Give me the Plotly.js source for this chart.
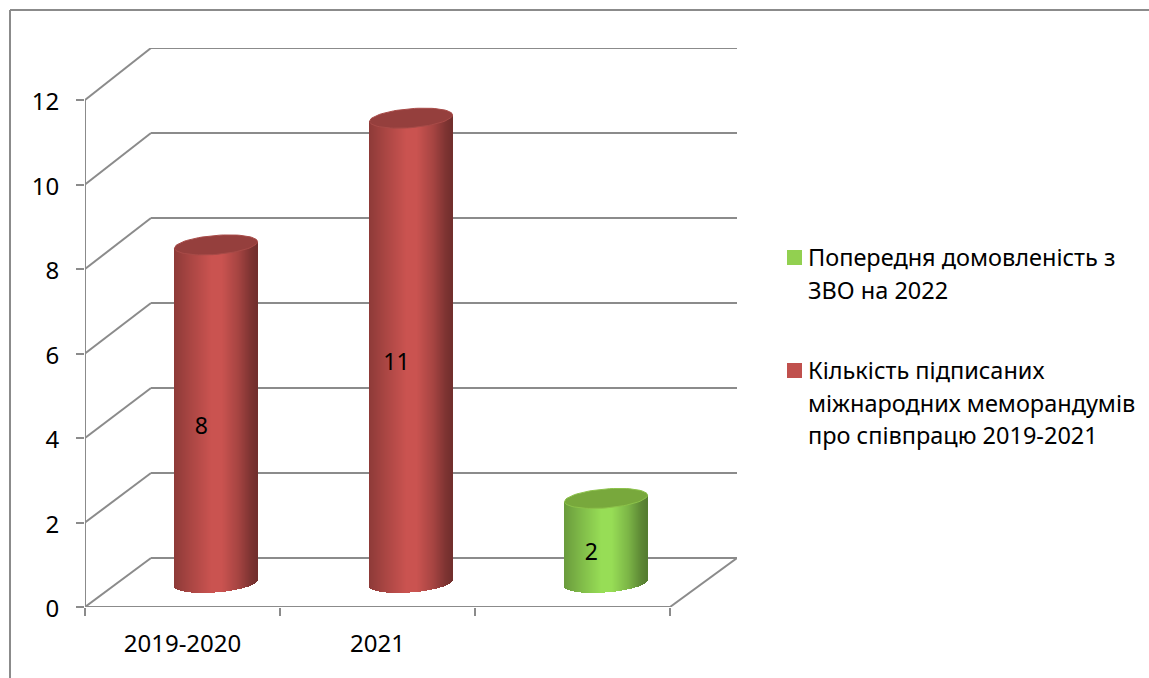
<!DOCTYPE html>
<html><head><meta charset="utf-8">
<script src="https://cdn.plot.ly/plotly-3.0.1.min.js"></script>
<style>html,body{margin:0;padding:0;background:#fff}#c{width:1149px;height:678px}</style>
</head><body><div id="c"></div>
<script>
// ---- data ----
const categories = ["2019-2020", "2021", ""];
const memorandaValues = [8, 11, null];
const agreementValues = [null, null, 2];
const memorandaName = ["Кількість підписаних", "міжнародних меморандумів", "про співпрацю 2019-2021"];
const agreementName = ["Попередня домовленість з", "ЗВО на 2022"];
const yTicks = [0, 2, 4, 6, 8, 10, 12];

// ---- styling and geometry ----
const W = 1149, H = 678, L = 85, R = 737, T = 48, B = 607;
const unitX = 195, unitY = 42.25;
const depthX = 66 / unitX, depthY = 49 / unitY, backScale = 42.5 / 42.25;
const xMax = (R - L) / unitX, yMax = (B - T) / unitY;
const grey = "#8b8b8b", FONT = "Noto Sans, sans-serif", FS = 23.5;
const radius = 41.5 / unitX, sPx = 3.2, bPx = 9.5, floorY = 0.57, catOffset = 0.172;
const red = [202, 83, 80], green = [151, 221, 86];
const stops = [[-1, .70], [-.6, .84], [-.1, 1.0], [.15, 1.0], [.55, .82], [.85, .62], [1, .56]];

function shade(c, u) {
  let k = 1;
  for (let i = 0; i < stops.length - 1; i++) {
    if (u >= stops[i][0] && u <= stops[i + 1][0]) {
      const f = (u - stops[i][0]) / (stops[i + 1][0] - stops[i][0]);
      k = stops[i][1] + f * (stops[i + 1][1] - stops[i][1]);
    }
  }
  return `rgb(${c.map(v => Math.round(v * k)).join(",")})`;
}
const N = 83;
function cylinder(values, name, col, topCol, rimCol) {
  const xs = [], bases = [], hs = [], cols = [], widths = [], out = [];
  const lx = [], ly = [], lt = [];
  values.forEach((v, i) => {
    if (v === null) return;
    const cx = i + 0.5 + catOffset;
    for (let j = 0; j < N; j++) {
      const u = -1 + (2 * j + 1) / N;
      const tilt = sPx * u / unitY, arc = bPx * Math.sqrt(1 - u * u) / unitY;
      const base = floorY + tilt - arc, top = floorY + v + tilt;
      xs.push(cx + u * radius); widths.push(2 * radius / N * 1.3);
      bases.push(base); hs.push(top - base); cols.push(shade(col, u));
    }
    const ex = [], ey = [];
    for (let a = 0; a <= 72; a++) {
      const t = a / 72 * 2 * Math.PI;
      ex.push(cx + radius * Math.cos(t));
      ey.push(floorY + v + (sPx * Math.cos(t) + bPx * Math.sin(t)) / unitY);
    }
    out.push({type: "scatter", mode: "lines", x: ex, y: ey, fill: "toself", fillcolor: topCol,
      line: {color: rimCol, width: 1}, hoverinfo: "skip", showlegend: false});
    lx.push(cx - 0.075); ly.push(v / 2 + 0.24); lt.push(String(v));
  });
  out.unshift({type: "bar", name: name.join(" "), x: xs, y: hs, base: bases, width: widths,
    marker: {color: cols, line: {width: 0}}, hoverinfo: "skip", showlegend: false});
  out.push({type: "scatter", mode: "text", x: lx, y: ly, text: lt, textposition: "middle center",
    textfont: {family: FONT, size: 23, color: "#000"}, hoverinfo: "skip", showlegend: false});
  return out;
}
const traces = [
  ...cylinder(memorandaValues, memorandaName, red, "#953f3d", "#a84b48"),
  ...cylinder(agreementValues, agreementName, green, "#78a83c", "#8cc24a")
];

const px = x => (x - L) / (R - L), py = y => (B - y) / (B - T);
const gl = {color: grey, width: 2};
const shapes = [];
yTicks.forEach(v => {
  const yb = v * backScale + depthY;
  shapes.push({type: "line", layer: "below", xref: "x", yref: "y", x0: 0, y0: v, x1: depthX, y1: yb, line: gl});
  shapes.push({type: "line", layer: "below", xref: "x", yref: "y", x0: depthX, y0: yb, x1: xMax, y1: yb, line: gl});
});
shapes.push({type: "line", layer: "below", xref: "x", yref: "y", x0: 0, y0: 0, x1: 0, y1: 12, line: gl});
shapes.push({type: "line", layer: "below", xref: "x", yref: "y", x0: 0, y0: 0, x1: categories.length, y1: 0, line: gl});
shapes.push({type: "line", layer: "below", xref: "x", yref: "y", x0: categories.length, y0: 0, x1: xMax, y1: depthY, line: gl});
// chart frame
shapes.push({type: "line", xref: "paper", yref: "paper", x0: px(10), y0: py(10), x1: px(W), y1: py(10), line: gl});
shapes.push({type: "line", xref: "paper", yref: "paper", x0: px(10), y0: py(10), x1: px(10), y1: py(H), line: gl});
// legend swatches
const sq = (y, c) => ({type: "rect", xref: "paper", yref: "paper", x0: px(787), x1: px(802), y0: py(y), y1: py(y + 15), fillcolor: c, line: {width: 0}});
shapes.push(sq(250, "#92d050"), sq(363, "#c0504d"));

const legendLine = (t, y) => ({xref: "paper", yref: "paper", x: px(809), y: py(y), text: t, showarrow: false,
  xanchor: "left", yanchor: "middle", xshift: -3, font: {family: FONT, size: FS, color: "#000"}});
const annotations = [
  ...agreementName.map((t, i) => legendLine(t, 257 + i * 33)),
  ...memorandaName.map((t, i) => legendLine(t, 370 + i * 32.5))
];

Plotly.newPlot("c", traces, {
  width: W, height: H, margin: {l: L, r: W - R, t: T, b: H - B, pad: 0},
  paper_bgcolor: "#fff", plot_bgcolor: "rgba(0,0,0,0)", showlegend: false, barmode: "overlay",
  bargap: 0, bargroupgap: 0,
  font: {family: FONT, color: "#000"},
  xaxis: {range: [0, xMax], tickmode: "array", tickvals: categories.map((c, i) => i + 0.5), ticktext: categories,
    ticks: "", showgrid: false, zeroline: false, showline: false, ticklabelstandoff: 20,
    tickfont: {family: FONT, size: 24, color: "#000"},
    minor: {tickmode: "array", tickvals: [0, 1, 2, 3], ticks: "outside", ticklen: 8, tickwidth: 2, tickcolor: grey, showgrid: false}},
  yaxis: {range: [0, yMax], tickmode: "array", tickvals: yTicks, ticks: "outside", ticklen: 8, tickwidth: 2, tickcolor: grey,
    showgrid: false, zeroline: false, showline: false, ticklabelstandoff: 12, ticklabelshift: 2,
    tickfont: {family: FONT, size: 24, color: "#000"}},
  shapes, annotations
}, {displayModeBar: false, staticPlot: true});
</script></body></html>
